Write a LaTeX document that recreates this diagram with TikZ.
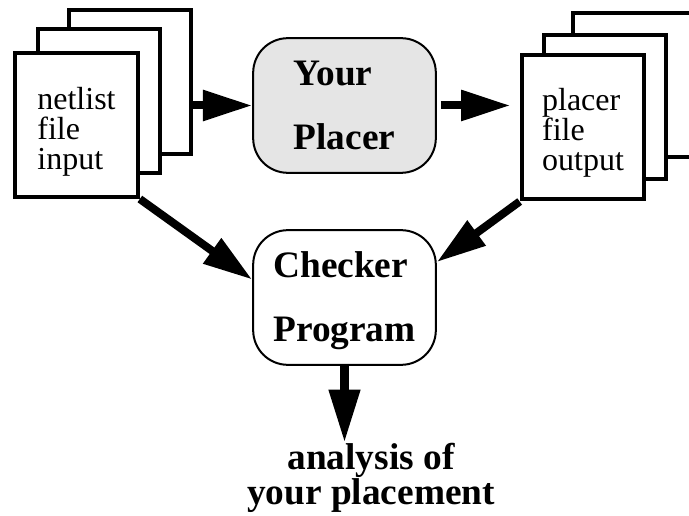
\documentclass[tikz,border=0pt]{standalone}
\usepackage{fontspec}
\setmainfont{Liberation Serif}
\usetikzlibrary{arrows.meta}

\begin{document}
\begin{tikzpicture}[x=0.75pt, y=-0.75pt,
  sheet/.style={draw, line width=3pt, fill=white, minimum width=92pt, minimum height=108pt, inner sep=0pt},
  sheettext/.style={inner sep=0pt, align=left, font=\fontsize{24}{22.5}\selectfont},
  prog/.style={draw, line width=1.5pt, rounded corners=26pt, minimum width=137pt, minimum height=101pt, inner sep=0pt, align=left, font=\bfseries\fontsize{28}{48.5}\selectfont},
  flow/.style={line width=6pt, -{Triangle[length=37pt, width=22pt]}}
]
\useasboundingbox (0,0) rectangle (689,516);

% input stack
\node[sheet] (nl3) at (130,82) {};
\node[sheet] (nl2) at (99,101) {};
\node[sheet] (nl) at (76.5,125) {};
\node[sheettext] (nltxt) at ([yshift=-5pt]nl.center) {netlist\\file\\input};

% output stack
\node[sheet] (pf3) at (634,85) {};
\node[sheet] (pf2) at (605,107) {};
\node[sheet] (pf) at (583,127.5) {};
\node[sheettext] (pftxt) at ([yshift=-4pt]pf.center) {placer\\file\\output};

% programs
\node[prog, fill=black!10] (pl) at (344.5,105.5) {Your\\Placer};
\node[prog] (chk) at (344.5,297.5) {\rule{0pt}{24pt}Checker\\Program};

\node[anchor=north, inner sep=0pt, align=center, font=\bfseries\fontsize{28}{24}\selectfont] (res) at (371,443) {analysis of\\your placement};

\draw[flow] (nl3.east |- pl.west) -- (pl.west);
\draw[flow, shorten <=3pt, shorten >=7pt] (pl.east) -- (pf.west |- pl.east);
\draw[flow] (nl.south east) -- (chk.169);
\draw[flow] (pf.south west) -- (chk.21);
\draw[line width=7pt, -{Triangle[length=40pt, width=22pt]}] (chk.south) -- (chk.south |- res.north);

\end{tikzpicture}
\end{document}
